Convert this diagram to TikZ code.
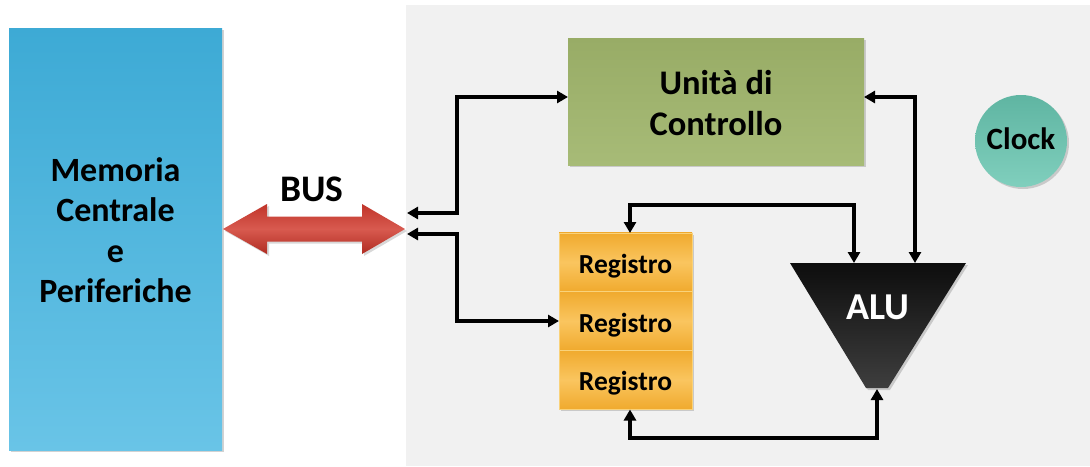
\documentclass[tikz,border=0pt]{standalone}
\usepackage{fontspec}
\setmainfont{Carlito}
\usetikzlibrary{arrows.meta,shadows,calc}
\definecolor{panel}{HTML}{F1F1F1}
\definecolor{memtop}{HTML}{3DAAD5}
\definecolor{membot}{HTML}{69C4E7}
\definecolor{uctop}{HTML}{98AC66}
\definecolor{ucbot}{HTML}{A7BB77}
\definecolor{regedge}{HTML}{F0AA2E}
\definecolor{regmid}{HTML}{FAC55F}
\definecolor{regline}{HTML}{F9D27A}
\definecolor{alutop}{HTML}{0D0D0D}
\definecolor{alubot}{HTML}{3E3E3E}
\definecolor{clktop}{HTML}{5FB5A2}
\definecolor{clkbot}{HTML}{80CFBD}
\definecolor{redtop}{HTML}{C0342A}
\definecolor{redmid}{HTML}{D85A4F}
\definecolor{redbot}{HTML}{B02C22}
\begin{document}
\begin{tikzpicture}[x=1pt,y=-1pt,
  box/.style={draw=none, inner sep=0pt, outer sep=0pt, font=\bfseries, align=center,
    drop shadow={opacity=0.35, shadow xshift=2pt, shadow yshift=-2pt}},
  txt/.style={inner sep=0pt, font=\bfseries, align=center},
  conn/.style={line width=3.4pt, {Triangle[length=11pt,width=12pt]}-{Triangle[length=11pt,width=12pt]}},
  regbox/.style={box, minimum width=133pt, minimum height=58.7pt, draw=regline, line width=0.8pt,
    top color=regedge, bottom color=regedge, middle color=regmid, text height=22pt, text depth=0pt,
    font=\bfseries\fontsize{27.5}{30}\selectfont}
]
\useasboundingbox (0,0) rectangle (1090,466);
\fill[white] (0,0) rectangle (1090,466);
\fill[panel] (406,5) rectangle (1090,466);

% Memoria
\node[box, minimum width=213pt, minimum height=422pt, top color=memtop, bottom color=membot] (mem) at (115.5,239) {};
\node[txt, font=\bfseries\fontsize{34}{40.5}\selectfont] (memtxt) at (115.5,230) {Memoria\\Centrale\\e\\Periferiche};

% BUS arrow
\shade[top color=redtop, bottom color=redbot, middle color=redmid, drop shadow={opacity=0.3, shadow xshift=2pt, shadow yshift=-2pt}]
  (223,229) -- (267,204) -- (267,216.5) -- (362,216.5) -- (362,204) -- (405,229)
  -- (362,254) -- (362,241.5) -- (267,241.5) -- (267,254) -- cycle;
\node[txt, font=\bfseries\fontsize{37.5}{40}\selectfont] (bus) at (312,189) {BUS};
\coordinate (busA) at (407,213);
\coordinate (busB) at (407,234);

% Unita di Controllo
\node[box, minimum width=296pt, minimum height=127pt, top color=uctop, bottom color=ucbot] (uc) at (716,101.5) {};
\node[txt, font=\bfseries\fontsize{34.5}{41}\selectfont] (uctxt) at (716,103.5) {Unità di\\Controllo};
\coordinate (yuc) at (0,97);

% Registri
\node[regbox] (reg1) at (625.5,262.3) {Registro};
\node[regbox] (reg2) at (625.5,321) {Registro};
\node[regbox] (reg3) at (625.5,379.7) {Registro};
\coordinate (regtop) at (630,233);
\coordinate (regbot) at (630,409.5);

% ALU
\shade[top color=alutop, bottom color=alubot, drop shadow={opacity=0.35, shadow xshift=2pt, shadow yshift=-2pt}]
  (790,263) -- (966,263) -- (888,388) -- (866,388) -- cycle;
\node[txt, text=white, font=\bfseries\fontsize{38}{40}\selectfont] (alu) at (878,307) {ALU};
\coordinate (aluL) at (854,263);
\coordinate (aluR) at (915,263);
\coordinate (aluB) at (877,389);

% Clock
\node[circle, box, minimum size=92pt, top color=clktop, bottom color=clkbot] (clock) at (1021,141) {};
\node[txt, font=\bfseries\fontsize{31}{33}\selectfont] (clocktxt) at (1021,139) {Clock};

% connectors
\draw[conn] (busA) -- (457,213) -- (457,97) -- (uc.west |- yuc);
\draw[conn] (busB) -- (457,234) |- (reg2.west);
\draw[conn] (uc.east |- yuc) -| (aluR);
\draw[conn] (regtop) |- (854,205) -- (aluL);
\draw[conn] (regbot) |- (877,438) -- (aluB);
\end{tikzpicture}
\end{document}
